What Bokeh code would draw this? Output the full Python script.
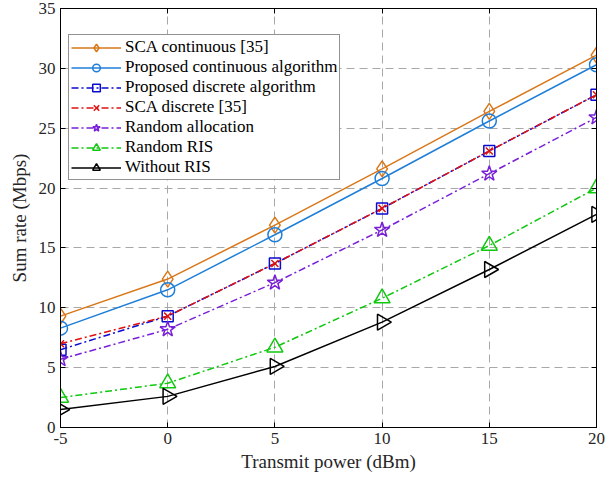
import numpy as np
from bokeh.plotting import figure
from bokeh.models import Range1d, LinearAxis, FixedTicker, Legend
from bokeh.embed import file_html
from bokeh.resources import INLINE

power = [-5, 0, 5, 10, 15, 20]
sca_cont = [9.3, 12.4, 16.9, 21.6, 26.4, 31.1]
prop_cont = [8.3, 11.5, 16.1, 20.8, 25.6, 30.3]
prop_disc = [6.5, 9.3, 13.7, 18.3, 23.1, 27.8]
sca_disc = [7.0, 9.3, 13.7, 18.3, 23.1, 27.8]
rand_alloc = [5.7, 8.2, 12.1, 16.5, 21.2, 25.9]
rand_ris = [2.5, 3.7, 6.7, 10.8, 15.2, 20.0]
no_ris = [1.5, 2.6, 5.1, 8.8, 13.2, 17.8]
x_ticks = [-5, 0, 5, 10, 15, 20]
y_ticks = [0, 5, 10, 15, 20, 25, 30, 35]

FONT = "Liberation Serif"

p = figure(width=616, height=480, output_backend="svg", toolbar_location=None,
           x_range=Range1d(-5, 20), y_range=Range1d(0, 35),
           min_border_left=64, min_border_right=16, min_border_top=12, min_border_bottom=49)
p.margin = (-4, 0, 0, -4)
p.background_fill_color = "white"
p.border_fill_color = "white"
p.outline_line_color = "black"
p.outline_line_width = 1

for ax in (p.xaxis[0], p.yaxis[0]):
    ax.major_tick_in = 5
    ax.major_tick_out = 0
    ax.minor_tick_in = 0
    ax.minor_tick_out = 0
    ax.axis_line_color = "black"
    ax.major_label_text_font = FONT
    ax.major_label_text_font_size = "17px"
    ax.major_label_text_color = "#262626"
    ax.axis_label_text_font = FONT
    ax.axis_label_text_font_size = "19px"
    ax.axis_label_text_font_style = "normal"
    ax.axis_label_text_color = "#262626"
p.xaxis.ticker = FixedTicker(ticks=x_ticks)
p.yaxis.ticker = FixedTicker(ticks=y_ticks)
p.xaxis.major_label_overrides = {t: str(t) for t in x_ticks}
p.xaxis.axis_label = "Transmit power (dBm)"
p.yaxis.axis_label = "Sum rate (Mbps)"
p.xaxis.axis_label_standoff = 4
p.yaxis.axis_label_standoff = 6

for loc, ticks in (("right", y_ticks), ("above", x_ticks)):
    ax = LinearAxis(ticker=FixedTicker(ticks=ticks), major_label_text_font_size="0px",
                    major_tick_in=5, major_tick_out=0, minor_tick_in=0, minor_tick_out=0,
                    axis_line_color="black")
    ax.major_label_text_alpha = 0
    p.add_layout(ax, loc)
p.right[0].major_label_standoff = 0
p.above[0].major_label_standoff = 0

p.xgrid.ticker = FixedTicker(ticks=x_ticks)
p.ygrid.ticker = FixedTicker(ticks=y_ticks)
for g in (p.xgrid, p.ygrid):
    g.grid_line_color = "#a8a8a8"
    g.grid_line_dash = "8 5"
    g.grid_line_width = 1

DD = "7 3 2 3"
series = [
    ("SCA continuous [35]", sca_cont, "#D9781A", "solid", "diamond", 0.0, 16),
    ("Proposed continuous algorithm", prop_cont, "#1F7FD8", "solid", "circle", 0.0, 14),
    ("Proposed discrete algorithm", prop_disc, "#0A0AD0", DD, "square", 0.0, 11),
    ("SCA discrete [35]", sca_disc, "#E01010", DD, "x", 0.0, 10),
    ("Random allocation", rand_alloc, "#7A1FD8", DD, "star", 0.0, 16),
    ("Random RIS", rand_ris, "#10C810", DD, "triangle", 0.0, 16),
    ("Without RIS", no_ris, "black", "solid", "triangle", -np.pi / 2, 16),
]

items = []
for name, ys, col, dash, mk, ang, sz in series:
    r1 = p.line(power, ys, line_color=col, line_width=1.5, line_dash=dash)
    r2 = p.scatter(power, ys, marker=mk, size=sz, angle=ang, line_color=col,
                   line_width=1.5, fill_color=None)
    items.append((name, [r1, r2]))

legend = Legend(items=items, location=(8, 247))
legend.label_text_font = FONT
legend.label_text_font_size = "17px"
legend.label_text_color = "black"
legend.glyph_width = 50
legend.glyph_height = 19
legend.label_height = 19
legend.spacing = 0
legend.padding = 2
legend.margin = 0
legend.label_standoff = 4
legend.border_line_color = "#262626"
legend.border_line_width = 1
legend.background_fill_alpha = 1
p.add_layout(legend, "center")

open("out.html", "w").write(file_html(p, INLINE))
